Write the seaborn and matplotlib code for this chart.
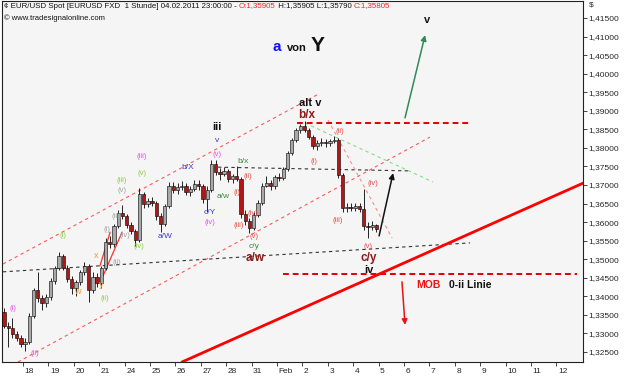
import matplotlib
matplotlib.use("Agg")
import matplotlib.pyplot as plt
import matplotlib.transforms as mtransforms
import numpy as np
import pandas as pd
import seaborn as sns

# EUR/USD, 4h bars (Jan 17 04:00 .. Feb 4 20:00, weekdays)
first_open = 1.3358
bar_high = [1.3368, 1.3331, 1.3342, 1.3307, 1.3296, 1.3288, 1.3355, 1.3422, 1.3466, 1.3404,
            1.3406, 1.3449, 1.3482, 1.3519, 1.3514, 1.3484, 1.3455, 1.3444, 1.3471, 1.3492,
            1.3487, 1.3466, 1.3463, 1.3482, 1.3557, 1.3563, 1.3595, 1.3633, 1.3646, 1.3622,
            1.3600, 1.3581, 1.3692, 1.3681, 1.3665, 1.3668, 1.3657, 1.3625, 1.3649, 1.3708,
            1.3708, 1.3705, 1.3711, 1.3705, 1.3697, 1.3713, 1.3713, 1.3703, 1.3697, 1.3767,
            1.3767, 1.3746, 1.3748, 1.3743, 1.3730, 1.3751, 1.3722, 1.3633, 1.3611, 1.3627,
            1.3660, 1.3705, 1.3724, 1.3713, 1.3727, 1.3732, 1.3748, 1.3792, 1.3827, 1.3854,
            1.3864, 1.3872, 1.3854, 1.3835, 1.3821, 1.3827, 1.3824, 1.3824, 1.3832, 1.3827,
            1.3732, 1.3651, 1.3651, 1.3651, 1.3651, 1.3689, 1.3600, 1.3603, 1.3595]
bar_low = [1.3315, 1.3263, 1.3288, 1.3280, 1.3263, 1.3253, 1.3271, 1.3342, 1.3385, 1.3363,
           1.3371, 1.3390, 1.3433, 1.3471, 1.3471, 1.3439, 1.3406, 1.3401, 1.3430, 1.3457,
           1.3385, 1.3409, 1.3425, 1.3422, 1.3471, 1.3530, 1.3533, 1.3584, 1.3608, 1.3584,
           1.3568, 1.3536, 1.3546, 1.3638, 1.3641, 1.3643, 1.3606, 1.3573, 1.3589, 1.3638,
           1.3678, 1.3676, 1.3687, 1.3673, 1.3670, 1.3684, 1.3687, 1.3651, 1.3627, 1.3681,
           1.3727, 1.3713, 1.3724, 1.3708, 1.3705, 1.3711, 1.3611, 1.3592, 1.3571, 1.3579,
           1.3614, 1.3646, 1.3695, 1.3687, 1.3689, 1.3711, 1.3713, 1.3738, 1.3781, 1.3816,
           1.3840, 1.3843, 1.3824, 1.3797, 1.3794, 1.3805, 1.3802, 1.3805, 1.3813, 1.3719,
           1.3627, 1.3627, 1.3630, 1.3630, 1.3627, 1.3579, 1.3557, 1.3579, 1.3573]
bar_close = [1.3320, 1.3315, 1.3298, 1.3288, 1.3271, 1.3277, 1.3347, 1.3417, 1.3395, 1.3382,
             1.3398, 1.3441, 1.3476, 1.3509, 1.3476, 1.3447, 1.3422, 1.3439, 1.3466, 1.3482,
             1.3417, 1.3452, 1.3436, 1.3476, 1.3546, 1.3541, 1.3589, 1.3625, 1.3616, 1.3592,
             1.3576, 1.3552, 1.3676, 1.3649, 1.3657, 1.3651, 1.3616, 1.3595, 1.3643, 1.3697,
             1.3687, 1.3695, 1.3697, 1.3681, 1.3689, 1.3703, 1.3697, 1.3662, 1.3687, 1.3757,
             1.3735, 1.3730, 1.3738, 1.3716, 1.3724, 1.3716, 1.3622, 1.3603, 1.3584, 1.3619,
             1.3651, 1.3697, 1.3705, 1.3697, 1.3722, 1.3719, 1.3743, 1.3786, 1.3821, 1.3848,
             1.3859, 1.3848, 1.3829, 1.3805, 1.3813, 1.3816, 1.3813, 1.3819, 1.3821, 1.3727,
             1.3638, 1.3641, 1.3638, 1.3643, 1.3635, 1.3589, 1.3587, 1.3592, 1.35805]

day_labels = ['18', '19', '20', '21', '24', '25', '26', '27', '28', '31', 'Feb',
              '2', '3', '4', '5', '6', '7', '8', '9', '10', '11', '12']
price_ticks = [1.325, 1.330, 1.335, 1.340, 1.345, 1.350, 1.355, 1.360, 1.365, 1.370,
               1.375, 1.380, 1.385, 1.390, 1.395, 1.400, 1.405, 1.410, 1.415]

# analyst drawings: (day, price) end points, day 0 = Jan 18
drawings = {
    'chan_up':   [(-0.79, 1.3487), (11.58, 1.3943)],
    'chan_lo':   [(-0.20, 1.3223), (16.02, 1.3829)],
    'base_lo':   [(-0.79, 1.3466), (17.60, 1.3544)],
    'base_hi':   [(7.68, 1.3748), (15.24, 1.3738)],
    'fan_red':   [(12.01, 1.3875), (14.53, 1.3557)],
    'fan_green': [(11.10, 1.3867), (16.14, 1.3708)],
    'top_bx':    [(10.79, 1.3867), (17.60, 1.3867)],
    'mob':       [(10.24, 1.3460), (21.81, 1.3460)],
    'trend':     [(6.26, 1.3223), (22.05, 1.3705)],
    'small_a':   [(3.03, 1.3482), (3.43, 1.3573)],
    'small_b':   [(3.15, 1.3455), (3.90, 1.3573)],
}
arrows = {
    'up_green': [(15.04, 1.3881), (15.83, 1.4104)],
    'down_red': [(14.92, 1.3439), (15.04, 1.3323)],
    'black':    [(14.02, 1.3563), (14.57, 1.3732)],
}

pink_labels = [("(i)", -0.39, 1.3368), ("(ii)", 0.47, 1.3247), ("(iii)", 4.69, 1.3778),
               ("(v)", 7.64, 1.3781), ("(iv)", 7.36, 1.3598)]
lime_labels = [("(i)", 1.57, 1.3563), ("(ii)", 3.23, 1.3395), ("(iii)", 3.90, 1.3713),
               ("(iv)", 4.57, 1.3533), ("(v)", 4.69, 1.3730)]
gray_labels = [("(i)", 3.31, 1.3579), ("(ii)", 3.70, 1.3490), ("(iii)", 3.70, 1.3616),
               ("(iv)", 4.02, 1.3563), ("(v)", 3.90, 1.3684)]
orange_labels = [("w", 2.13, 1.3412), ("x", 2.87, 1.3511), ("y", 3.07, 1.3433)]
blue_labels = [("a/W", 5.59, 1.3560), ("b/X", 6.50, 1.3748), ("c/Y", 7.36, 1.3627),
               ("v", 7.64, 1.3821)]
green_labels = [("b/x", 8.66, 1.3762), ("a/w", 7.87, 1.3668), ("c/y", 9.09, 1.3533)]
red_labels = [("(i)", 8.43, 1.3681), ("(ii)", 8.86, 1.3724), ("(iii)", 8.50, 1.3592),
              ("(iv)", 9.06, 1.3622), ("(v)", 9.09, 1.3560), ("(i)", 11.46, 1.3764),
              ("(ii)", 12.48, 1.3843), ("(iii)", 12.40, 1.3603), ("(iv)", 13.78, 1.3703),
              ("(v)", 13.58, 1.3533)]
darkred_labels = [("a/w", 9.13, 1.3503), ("c/y", 13.62, 1.3503), ("b/x", 11.18, 1.3889)]
black_labels = [("alt v", 11.30, 1.3921), ("iii", 7.64, 1.3857), ("iv", 13.62, 1.3471),
                ("v", 15.91, 1.4145)]

sns.set_style("white")
plt.rcParams['font.family'] = ['Liberation Sans', 'DejaVu Sans']

# bar positions in trading days
times = pd.date_range("2011-01-17 04:00", "2011-02-04 20:00", freq="4h")
times = times[times.weekday < 5]
day_idx = np.busday_count(np.datetime64('2011-01-18'), times.values.astype('datetime64[D]'))
pos = day_idx + (times.hour.values + 2) / 24.0

c = np.array(bar_close)
o = np.array([first_open] + bar_close[:-1])
h = np.array(bar_high)
l = np.array(bar_low)

fig = plt.figure(figsize=(6.25, 3.77), dpi=100)
ax = fig.add_axes([2 / 625, 15 / 377, 581 / 625, 361 / 377])
ax.set_facecolor('#f5f5f5')

# lines first, candles on top
line_colors = {'chan_up': '#ff5a5a', 'chan_lo': '#ff5a5a', 'base_lo': '#333333', 'base_hi': '#333333',
               'fan_red': '#ff8c8c', 'fan_green': '#86dd86', 'top_bx': '#e00000', 'mob': '#e00000',
               'trend': '#ff0000', 'small_a': '#ff3030', 'small_b': '#ff3030'}
line_dashes = {'chan_up': (3, 3), 'chan_lo': (3, 3), 'base_lo': (3, 3), 'base_hi': (3, 3),
               'fan_red': (3, 3), 'fan_green': (3, 3), 'top_bx': (3, 2), 'mob': (3, 2),
               'trend': '', 'small_a': '', 'small_b': ''}
line_widths = {'chan_up': 0.8, 'chan_lo': 0.8, 'base_lo': 0.8, 'base_hi': 0.8,
               'fan_red': 0.8, 'fan_green': 0.8, 'top_bx': 1.4, 'mob': 1.4,
               'trend': 2.0, 'small_a': 0.9, 'small_b': 0.9}
seg = pd.DataFrame([(n, d, p) for n, pts in drawings.items() for d, p in pts],
                   columns=['name', 'day', 'price'])
sns.lineplot(data=seg, x='day', y='price', hue='name', style='name', size='name',
             palette=line_colors, dashes=line_dashes, sizes=line_widths,
             units='name', estimator=None, sort=False, legend=False, ax=ax)

# candles
up = c >= o
ax.vlines(pos, l, h, color='black', lw=0.6, zorder=3)
body = np.maximum(np.abs(c - o), 0.00008)
ax.bar(pos, body, bottom=np.minimum(o, c), width=0.13,
       color=np.where(up, '#a8a8a8', '#b01818'), edgecolor='black', lw=0.4, zorder=4)

arrow_colors = {'up_green': '#2e8b57', 'down_red': '#ee1111', 'black': '#111111'}
for name, (start, end) in arrows.items():
    ax.annotate('', xy=end, xytext=start,
                arrowprops=dict(arrowstyle='-|>', color=arrow_colors[name], lw=1.1,
                                mutation_scale=8, shrinkA=0, shrinkB=0), zorder=5)

def put(labels, color, size, weight='normal'):
    for txt, d, p in labels:
        ax.text(d, p, txt, color=color, fontsize=size, fontweight=weight,
                ha='center', va='center', zorder=6)

put(pink_labels, '#e64ee6', 5.5)
put(lime_labels, '#8ccf3c', 5.5)
put(gray_labels, '#a0a0a0', 5.5)
put(orange_labels, '#f0a030', 6.5)
put(blue_labels, '#3a3ad8', 6)
put(green_labels, '#3a8a3a', 6)
put(red_labels, '#e84a4a', 5.5)
put(darkred_labels, '#8b1a1a', 8.5, 'bold')
put(black_labels, '#111111', 8, 'bold')

ax.text(10.0, 1.4072, "a", color='#1010ff', fontsize=11, fontweight='bold', ha='center', va='center')
ax.text(10.79, 1.4069, "von", color='#111111', fontsize=8, fontweight='bold', ha='center', va='center')
ax.text(11.61, 1.4075, "Y", color='#111111', fontsize=15, fontweight='bold', ha='center', va='center')
ax.text(15.98, 1.3430, "MOB", color='#ee1111', fontsize=7.5, fontweight='bold', ha='center', va='center')
ax.text(17.60, 1.3430, "0-ii Linie", color='#111111', fontsize=7.5, fontweight='bold', ha='center', va='center')

ax.set_xlim(-0.827, 22.047)
ax.set_ylim(1.3223, 1.41958)

ax.set_xticks(range(len(day_labels)), day_labels)
ax.tick_params(axis='x', direction='out', length=3, width=0.6, pad=1, labelsize=6, bottom=True)
shift = mtransforms.ScaledTranslation(1.5 / 100, 0, fig.dpi_scale_trans)
for lab in ax.get_xticklabels():
    lab.set_ha('left')
    lab.set_transform(lab.get_transform() + shift)

ax.yaxis.tick_right()
ax.set_yticks(price_ticks, [f"{v:.5f}".replace('.', ',') for v in price_ticks])
ax.tick_params(axis='y', direction='out', length=3, width=0.6, pad=1, labelsize=6, right=True)
ax.set_xlabel('')
ax.set_ylabel('')
for s in ax.spines.values():
    s.set_color('#222222')
    s.set_linewidth(0.8)

fig.text(589 / 625, 1 - 5 / 377, "$", fontsize=6, ha='left', va='center')

# header line
parts = [("¢ EUR/USD Spot [EURUSD FXD  1 Stunde] 04.02.2011 23:00:00 - ", '#111111'),
         ("O:1,35905", '#ff2020'), (" H:1,35905 L:1,35790 ", '#111111'), ("C:1,35805", '#ff2020')]
t = fig.text(4 / 625, 1 - 6 / 377, parts[0][0], color=parts[0][1], fontsize=5.7, va='center', ha='left')
for s, col in parts[1:]:
    t = ax.annotate(s, xy=(1, 0), xycoords=t, va='bottom', ha='left', color=col,
                    fontsize=5.7, annotation_clip=False)
fig.text(4 / 625, 1 - 18 / 377, "© www.tradesignalonline.com", color='#111111', fontsize=5.5,
         va='center', ha='left')

fig.savefig('out.png', dpi=100, facecolor='white')
